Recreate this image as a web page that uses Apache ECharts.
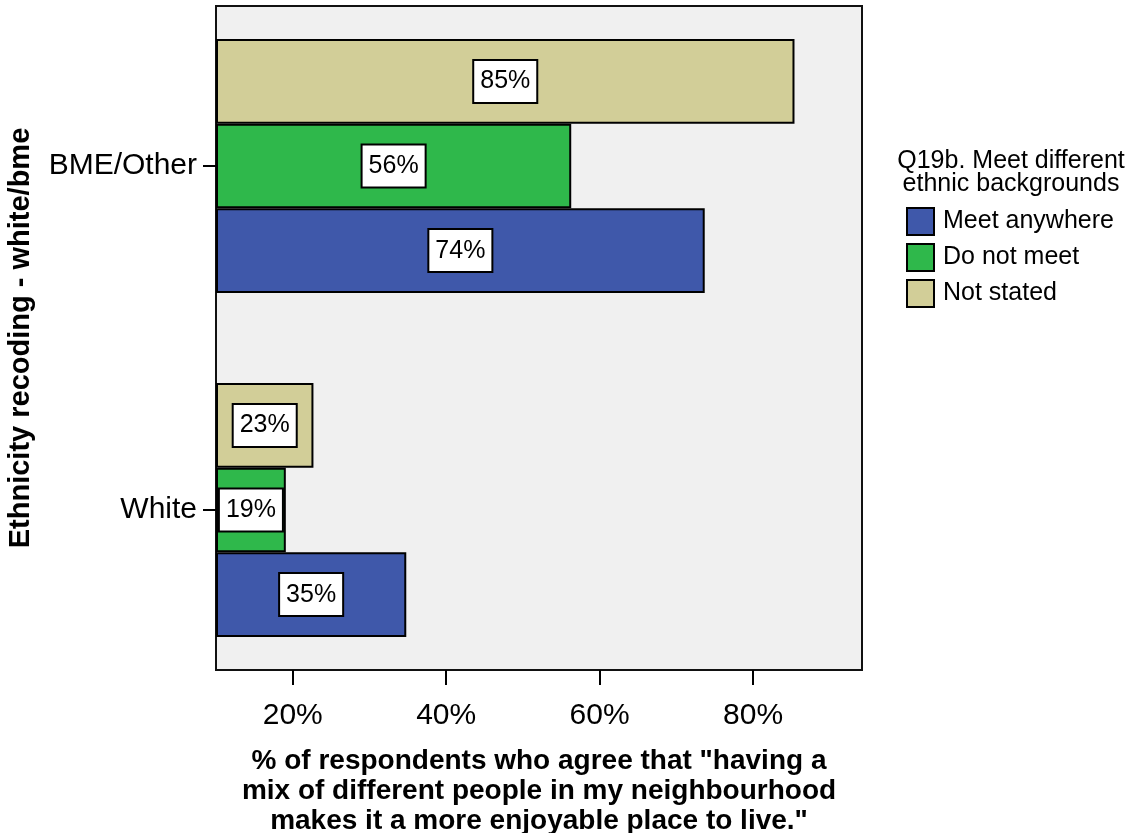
<!DOCTYPE html>
<html>
<head>
<meta charset="utf-8">
<script src="https://cdn.jsdelivr.net/npm/echarts@6/dist/echarts.min.js"></script>
<style>
html,body{margin:0;padding:0;background:#fff;}
#chart{width:1131px;height:833px;}
</style>
</head>
<body>
<div id="chart"></div>
<script>
var categories = ['White', 'BME/Other'];
var meetAnywhere = [34.8, 73.7];
var doNotMeet = [19.1, 56.3];
var notStated = [22.7, 85.4];
var seriesNames = ['Meet anywhere', 'Do not meet', 'Not stated'];
var xTicks = [20, 40, 60, 80];
var xTitle = '% of respondents who agree that "having a\nmix of different people in my neighbourhood\nmakes it a more enjoyable place to live."';
var yTitle = 'Ethnicity recoding - white/bme';
var legendTitle = 'Q19b. Meet different\nethnic backgrounds';

var FONT = '"Liberation Sans", Arial, Helvetica, sans-serif';
var colors = ['#3f58aa', '#2fb84b', '#d2ce98'];
var X_MIN = 10, X_MAX = 94.2;

var chart = echarts.init(document.getElementById('chart'), null, {renderer: 'canvas'});

function mkSeries(name, data, color) {
  return {
    type: 'bar',
    name: name,
    xAxisIndex: 1,
    yAxisIndex: 1,
    data: data,
    barGap: '0%',
    barCategoryGap: '26.2%',
    itemStyle: {color: color, borderColor: '#000', borderWidth: 2},
    label: {
      show: true,
      position: 'inside',
      formatter: function (p) { return Math.round(p.value) + '%'; },
      color: '#000',
      fontFamily: FONT,
      fontSize: 25,
      lineHeight: 25,
      backgroundColor: '#fff',
      borderColor: '#000',
      borderWidth: 2,
      padding: [8, 6, 8, 6]
    },
    emphasis: {disabled: true},
    animation: false
  };
}

var option = {
  animation: false,
  textStyle: {fontFamily: FONT},
  grid: [
    {left: 216, top: 6, width: 646, height: 664, show: true, backgroundColor: '#f0f0f0', borderColor: '#111', borderWidth: 2, containLabel: false, outerBoundsMode: 'none'},
    {left: 216, top: -6, width: 646, height: 688, show: false, containLabel: false, outerBoundsMode: 'none'}
  ],
  xAxis: [
    {
      gridIndex: 0, type: 'value', min: X_MIN, max: X_MAX,
      axisLine: {show: false},
      splitLine: {show: false},
      axisTick: {show: true, customValues: xTicks, length: 15, lineStyle: {color: '#000', width: 2}},
      axisLabel: {show: true, customValues: xTicks, formatter: '{value}%', margin: 31, color: '#000', fontFamily: FONT, fontSize: 30},
      name: xTitle,
      nameLocation: 'middle',
      nameGap: 76,
      nameTextStyle: {color: '#000', fontFamily: FONT, fontSize: 28, fontWeight: 'bold', lineHeight: 30, align: 'center'}
    },
    {
      gridIndex: 1, type: 'value', min: X_MIN, max: X_MAX, startValue: X_MIN, show: false
    }
  ],
  yAxis: [
    {gridIndex: 0, type: 'value', show: false},
    {
      gridIndex: 1, type: 'category', data: categories,
      axisLine: {show: false},
      axisTick: {show: true, alignWithLabel: true, length: 13, lineStyle: {color: '#000', width: 2}},
      axisLabel: {color: '#000', fontFamily: FONT, fontSize: 30, margin: 19},
      splitLine: {show: false},
      name: yTitle,
      nameLocation: 'middle',
      nameGap: 181,
      nameRotate: 90,
      nameTextStyle: {color: '#000', fontFamily: FONT, fontSize: 29, fontWeight: 'bold'}
    }
  ],
  legend: {
    orient: 'vertical',
    left: 906,
    top: 207,
    padding: 0,
    itemWidth: 27,
    itemHeight: 27,
    itemGap: 7,
    icon: 'rect',
    data: seriesNames,
    itemStyle: {borderColor: '#000', borderWidth: 2},
    textStyle: {color: '#000', fontFamily: FONT, fontSize: 25, lineHeight: 27, padding: [0, 0, 0, 4]},
    selectedMode: false
  },
  graphic: [
    {
      type: 'text',
      style: {
        text: legendTitle,
        x: 1011,
        y: 150,
        textAlign: 'center',
        textVerticalAlign: 'top',
        fill: '#000',
        fontSize: 25,
        fontFamily: FONT,
        lineHeight: 23
      }
    }
  ],
  series: [
    mkSeries(seriesNames[2], notStated, colors[2]),
    mkSeries(seriesNames[1], doNotMeet, colors[1]),
    mkSeries(seriesNames[0], meetAnywhere, colors[0])
  ]
};
chart.setOption(option);
</script>
</body>
</html>
